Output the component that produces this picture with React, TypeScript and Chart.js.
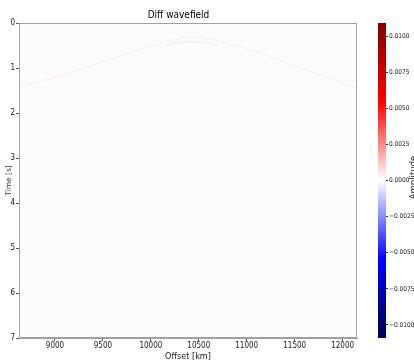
import React, { useEffect, useRef } from 'react';
import { Chart, registerables } from 'chart.js';

Chart.register(...registerables);

// ---- data ----
const xTicks = [9000, 9500, 10000, 10500, 11000, 11500, 12000];
const yTicks = [0, 1, 2, 3, 4, 5, 6, 7];
const cbarTicks = [-0.01, -0.0075, -0.005, -0.0025, 0, 0.0025, 0.005, 0.0075, 0.01];
const offsetMin = 8625;
const offsetMax = 12150;
const timeMin = 0;
const timeMax = 7;
const ampMin = -0.0109;
const ampMax = 0.0109;

// faint reflection event (red lobe) visible in the difference image
const redOffsets = [8625, 9000, 9500, 10000, 10250, 10410, 10600, 11000, 11500, 12150];
const redTimes = [1.45, 1.2, 0.86, 0.52, 0.37, 0.31, 0.35, 0.58, 0.95, 1.45];
// faint blue lobe just below the apex
const blueOffsets = [10150, 10300, 10410, 10550, 10700];
const blueTimes = [0.5, 0.43, 0.41, 0.43, 0.49];

const seismicStops: [number, string][] = [
  [0, 'rgb(0,0,77)'],
  [0.25, 'rgb(0,0,255)'],
  [0.5, 'rgb(255,255,255)'],
  [0.75, 'rgb(255,0,0)'],
  [1, 'rgb(128,0,0)'],
];

const narrow = "'Liberation Sans Narrow', 'DejaVu Sans Condensed', 'Roboto Condensed', sans-serif";
const wide = "'DejaVu Sans', 'Noto Sans', sans-serif";
const tickFont = { family: narrow, size: 8 };
const cbarFont = { family: narrow, size: 6.5 };
const tickColor = '#222';

const fmtAmp = (v: number) => {
  const s = Math.abs(v).toFixed(4);
  return v < -1e-9 ? '\u2212' + s : s;
};

export default function App() {
  const mainRef = useRef<HTMLCanvasElement | null>(null);
  const cbarRef = useRef<HTMLCanvasElement | null>(null);

  useEffect(() => {
    const framePlugin = {
      id: 'frame',
      beforeDatasetsDraw(chart: any) {
        const { ctx, chartArea } = chart;
        const { left, top, right, bottom } = chartArea;
        ctx.save();
        ctx.fillStyle = '#fdfcfd';
        ctx.fillRect(left, top, right - left, bottom - top);
        ctx.restore();
      },
      afterDraw(chart: any) {
        const { ctx, chartArea } = chart;
        const { left, top, right, bottom } = chartArea;
        ctx.save();
        ctx.strokeStyle = '#a0a0a0';
        ctx.lineWidth = 1;
        ctx.strokeRect(Math.round(left) + 0.5, Math.round(top) + 0.5, Math.round(right - left) - 1, Math.round(bottom - top) - 1);
        ctx.restore();
      },
    };

    const main = new Chart(mainRef.current as HTMLCanvasElement, {
      type: 'scatter',
      data: {
        datasets: [
          {
            data: redOffsets.map((x, i) => ({ x, y: redTimes[i] })),
            showLine: true,
            borderColor: 'rgba(255,160,140,0.09)',
            borderWidth: 2,
            pointRadius: 0,
            tension: 0.4,
          },
          {
            data: blueOffsets.map((x, i) => ({ x, y: blueTimes[i] })),
            showLine: true,
            borderColor: 'rgba(140,160,255,0.12)',
            borderWidth: 2,
            pointRadius: 0,
            tension: 0.4,
          },
        ],
      },
      options: {
        animation: false,
        responsive: false,
        events: [],
        layout: { padding: { left: 0, right: 57, top: 0, bottom: 0 } },
        plugins: {
          legend: { display: false },
          tooltip: { enabled: false },
          title: {
            display: true,
            text: 'Diff wavefield',
            color: '#000',
            font: { family: narrow, size: 10, weight: 'normal' },
            padding: { top: 9, bottom: 2 },
          },
        },
        scales: {
          x: {
            type: 'linear',
            min: offsetMin,
            max: offsetMax,
            afterBuildTicks: (s: any) => {
              s.ticks = xTicks.map((v) => ({ value: v }));
            },
            afterFit: (s: any) => {
              s.height = 24;
            },
            grid: { display: true, drawOnChartArea: false, tickLength: 3, color: '#555' },
            border: { display: true, color: '#a0a0a0' },
            ticks: { font: tickFont, color: tickColor, padding: 0, maxRotation: 0, autoSkip: false, callback: (v: any) => String(v) },
            title: {
              display: true,
              text: 'Offset [km]',
              color: '#222',
              font: { family: narrow, size: 9 },
              padding: { top: 0, bottom: 0 },
            },
          },
          y: {
            type: 'linear',
            reverse: true,
            min: timeMin,
            max: timeMax,
            afterBuildTicks: (s: any) => {
              s.ticks = yTicks.map((v) => ({ value: v }));
            },
            afterFit: (s: any) => {
              s.width = 19;
            },
            grid: { display: true, drawOnChartArea: false, tickLength: 3, color: '#555' },
            border: { display: true, color: '#a0a0a0' },
            ticks: { font: tickFont, color: tickColor, padding: 1, autoSkip: false, callback: (v: any) => String(v) },
            title: {
              display: true,
              text: 'Time [s]',
              color: '#333',
              font: { family: wide, size: 7.5 },
              padding: { top: 5, bottom: 0 },
            },
          },
        },
      },
      plugins: [framePlugin],
    } as any);

    const gradientPlugin = {
      id: 'cbarGradient',
      beforeDatasetsDraw(chart: any) {
        const { ctx, chartArea } = chart;
        const { left, top, right, bottom } = chartArea;
        const g = ctx.createLinearGradient(0, bottom, 0, top);
        seismicStops.forEach(([p, c]) => g.addColorStop(p, c));
        ctx.save();
        ctx.fillStyle = g;
        ctx.fillRect(left, top, right - left, bottom - top);
        ctx.restore();
      },
      afterDraw(chart: any) {
        const { ctx, chartArea } = chart;
        ctx.save();
        ctx.fillStyle = '#222';
        ctx.font = "8.5px 'DejaVu Sans', 'Noto Sans', sans-serif";
        ctx.textAlign = 'center';
        ctx.textBaseline = 'middle';
        ctx.translate(44, (chartArea.top + chartArea.bottom) / 2 - 3);
        ctx.rotate(-Math.PI / 2);
        ctx.fillText('Amplitude', 0, 0);
        ctx.restore();
      },
    };

    const cbar = new Chart(cbarRef.current as HTMLCanvasElement, {
      type: 'scatter',
      data: { datasets: [] },
      options: {
        animation: false,
        responsive: false,
        events: [],
        layout: { padding: { left: 8, right: 0, top: 23, bottom: 24 } },
        plugins: { legend: { display: false }, tooltip: { enabled: false }, title: { display: false } },
        scales: {
          x: { type: 'linear', display: false, min: 0, max: 1 },
          y: {
            type: 'linear',
            position: 'right',
            min: ampMin,
            max: ampMax,
            afterBuildTicks: (s: any) => {
              s.ticks = cbarTicks.map((v) => ({ value: v }));
            },
            afterFit: (s: any) => {
              s.width = 28;
            },
            grid: { display: true, drawOnChartArea: false, tickLength: 2, color: '#333' },
            border: { display: false },
            ticks: { font: cbarFont, color: tickColor, padding: 1, autoSkip: false, callback: (v: any) => fmtAmp(Number(v)) },
          },
        },
      },
      plugins: [gradientPlugin],
    } as any);

    return () => {
      main.destroy();
      cbar.destroy();
    };
  }, []);

  return (
    <div style={{ position: 'absolute', left: 0, top: 0, width: 414, height: 362, background: '#fff' }}>
      <canvas ref={mainRef} width={414} height={362} style={{ position: 'absolute', left: 0, top: 0, width: 414, height: 362 }} />
      <canvas ref={cbarRef} width={44} height={362} style={{ position: 'absolute', left: 370, top: 0, width: 44, height: 362 }} />
    </div>
  );
}
